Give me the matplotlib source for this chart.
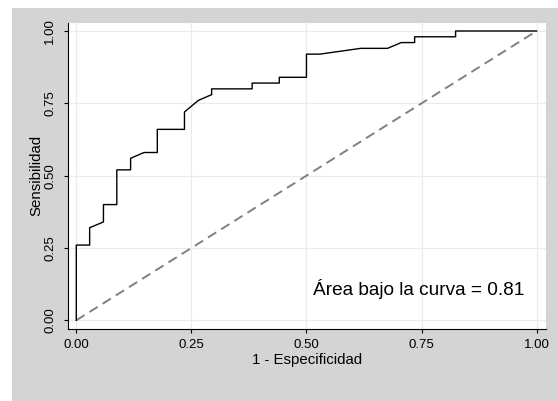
import matplotlib
matplotlib.use("Agg")
import matplotlib.pyplot as plt
from matplotlib.patches import Rectangle

# ROC curve points (1 - specificity, sensitivity)
fpr = [0.0, 0.0, 0.029, 0.029, 0.059, 0.059, 0.088, 0.088, 0.118, 0.118,
       0.147, 0.176, 0.176, 0.235, 0.235, 0.265, 0.294, 0.294, 0.382, 0.382,
       0.441, 0.441, 0.5, 0.5, 0.529, 0.618, 0.676, 0.706, 0.735, 0.735,
       0.824, 0.824, 1.0]
tpr = [0.0, 0.26, 0.26, 0.32, 0.34, 0.40, 0.40, 0.52, 0.52, 0.56,
       0.58, 0.58, 0.66, 0.66, 0.72, 0.76, 0.78, 0.80, 0.80, 0.82,
       0.82, 0.84, 0.84, 0.92, 0.92, 0.94, 0.94, 0.96, 0.96, 0.98,
       0.98, 1.0, 1.0]
ref_line = [0.0, 1.0]
ticks = [0.0, 0.25, 0.5, 0.75, 1.0]
tick_labels = ["0.00", "0.25", "0.50", "0.75", "1.00"]
auc_text = "Área bajo la curva = 0.81"

plt.rcParams["font.family"] = ["Liberation Sans", "DejaVu Sans"]

fig = plt.figure(figsize=(5.58, 4.01), dpi=100, facecolor="white")
fig.patches.append(Rectangle((12 / 558, 0), 1, 1 - 8 / 401, transform=fig.transFigure,
                             facecolor="#d4d4d4", edgecolor="none", zorder=-10))

ax = fig.add_axes([0.1213, 0.1796, 0.8572, 0.7638])
ax.set_facecolor("white")

ax.plot(ref_line, ref_line, color="#808080", lw=1.4, dashes=(5, 3), zorder=2)
ax.plot(fpr, tpr, color="black", lw=1.0, zorder=3)

ax.set_xlim(-0.0187, 1.0204)
ax.set_ylim(-0.030, 1.0287)
ax.set_xticks(ticks)
ax.set_xticklabels(tick_labels)
ax.set_yticks(ticks)
ax.set_yticklabels(tick_labels, rotation=90, va="center")
ax.grid(True, color="#e4eef1", lw=0.9, zorder=0)
ax.set_axisbelow(True)

for side in ["top", "right"]:
    ax.spines[side].set_visible(False)
for side in ["left", "bottom"]:
    ax.spines[side].set_linewidth(0.8)
ax.tick_params(direction="out", length=3.2, width=0.8, labelsize=9.5, colors="black")
ax.tick_params(axis="x", pad=4)
ax.tick_params(axis="y", pad=5)

ax.set_xlabel("1 - Especificidad", fontsize=10.8)
ax.set_ylabel("Sensibilidad", fontsize=10.8)
ax.xaxis.set_label_coords(0.5, -0.078)
ax.yaxis.set_label_coords(-0.05, 0.5)

ax.text(0.515, 0.107, auc_text, fontsize=13.7, ha="left", va="center")

fig.savefig("out.png", dpi=100)
